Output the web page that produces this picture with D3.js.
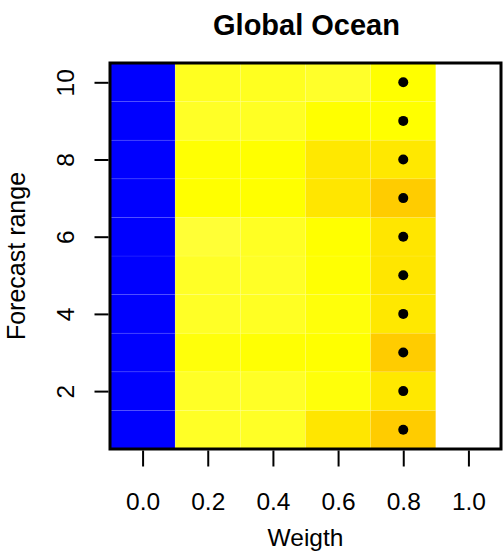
<!DOCTYPE html>
<html>
<head>
<meta charset="utf-8">
<script src="https://cdn.jsdelivr.net/npm/d3@7"></script>
<style>
  body { margin: 0; background: #fff; }
  text { font-family: "Liberation Sans", Arial, sans-serif; }
</style>
</head>
<body>
<svg id="chart" width="503" height="552"></svg>
<script>
var weights = [0.0, 0.2, 0.4, 0.6, 0.8, 1.0];
var ranges = [1, 2, 3, 4, 5, 6, 7, 8, 9, 10];
var xTicks = ["0.0", "0.2", "0.4", "0.6", "0.8", "1.0"];
var yTicks = [2, 4, 6, 8, 10];

// score per forecast range (rows 1..10), one value per weight
// -1 = lowest class (blue), null = no value (white)
var score = [
  [-1, 0.4, 0.4, 1.5, 2.0, null],    // 1
  [-1, 0.4, 0.4, 0.85, 1.45, null],  // 2
  [-1, 0.85, 0.95, 1.0, 2.0, null],  // 3
  [-1, 0.4, 0.45, 0.85, 1.45, null], // 4
  [-1, 0.4, 0.4, 0.95, 1.5, null],   // 5
  [-1, 0.15, 0.45, 1.0, 1.5, null],  // 6
  [-1, 1.0, 1.0, 1.5, 2.0, null],    // 7
  [-1, 0.95, 1.0, 1.45, 1.45, null], // 8
  [-1, 0.4, 0.45, 1.0, 1.0, null],   // 9
  [-1, 0.5, 0.5, 0.35, 1.0, null]    // 10
];
var bestWeight = [0.8, 0.8, 0.8, 0.8, 0.8, 0.8, 0.8, 0.8, 0.8, 0.8];

var svg = d3.select("#chart");
var pLeft = 110, pRight = 501, pTop = 63, pBottom = 449;

var x = d3.scaleLinear().domain([-0.1, 1.1]).range([pLeft, pRight]);
var y = d3.scaleLinear().domain([0.5, 10.5]).range([pBottom, pTop]);

var yellow = d3.scaleLinear()
  .domain([0, 1, 2])
  .range(["#ffff40", "#ffff00", "#ffcc00"])
  .clamp(true);

function fill(v) {
  if (v == null) return "#ffffff";
  if (v < 0) return "#0000ff";
  return yellow(v);
}

var cells = [];
ranges.forEach(function (r, i) {
  weights.forEach(function (w, j) {
    cells.push({ w: w, r: r, v: score[i][j] });
  });
});

svg.append("g").selectAll("rect")
  .data(cells)
  .enter().append("rect")
  .attr("x", function (d) { return x(d.w - 0.1); })
  .attr("y", function (d) { return y(d.r + 0.5); })
  .attr("width", x(0.2) - x(0))
  .attr("height", y(0) - y(1))
  .attr("fill", function (d) { return fill(d.v); })
  .attr("stroke", function (d) { return d.v == null ? "none" : "rgba(255,255,255,0.1)"; })
  .attr("stroke-width", 0.8);

// best weight dots
svg.append("g").selectAll("circle")
  .data(ranges)
  .enter().append("circle")
  .attr("cx", function (d, i) { return x(bestWeight[i]); })
  .attr("cy", function (d) { return y(d); })
  .attr("r", 5)
  .attr("fill", "#000");

// box
svg.append("rect")
  .attr("x", pLeft).attr("y", pTop)
  .attr("width", pRight - pLeft).attr("height", pBottom - pTop)
  .attr("fill", "none").attr("stroke", "#000").attr("stroke-width", 3);

// x axis
var xa = svg.append("g").attr("transform", "translate(0," + (pBottom + 1.5) + ")")
  .call(d3.axisBottom(x).tickValues(weights).tickSize(16).tickSizeOuter(0)
    .tickFormat(function (d, i) { return xTicks[i]; }));
xa.select(".domain").remove();
xa.selectAll("line").attr("stroke", "#000").attr("stroke-width", 2);
xa.selectAll("text")
  .attr("font-size", 24.5).attr("fill", "#000")
  .attr("y", 0).attr("dy", 0)
  .attr("transform", "translate(0,59)");

// y axis
var ya = svg.append("g").attr("transform", "translate(" + (pLeft - 1.5) + ",0)")
  .call(d3.axisLeft(y).tickValues(yTicks).tickSize(14).tickSizeOuter(0));
ya.select(".domain").remove();
ya.selectAll("line").attr("stroke", "#000").attr("stroke-width", 2);
ya.selectAll("text")
  .attr("font-size", 24.5).attr("fill", "#000")
  .attr("text-anchor", "middle")
  .attr("x", 0).attr("dy", 0)
  .attr("transform", "translate(-35,0) rotate(-90)");

// titles
svg.append("text")
  .attr("x", (pLeft + pRight) / 2 + 1).attr("y", 35)
  .attr("text-anchor", "middle")
  .attr("font-size", 29).attr("font-weight", "bold")
  .text("Global Ocean");

svg.append("text")
  .attr("x", (pLeft + pRight) / 2).attr("y", 546)
  .attr("text-anchor", "middle")
  .attr("font-size", 24.5)
  .text("Weigth");

svg.append("text")
  .attr("transform", "translate(25," + ((pTop + pBottom) / 2) + ") rotate(-90)")
  .attr("text-anchor", "middle")
  .attr("font-size", 25)
  .text("Forecast range");
</script>
</body>
</html>
